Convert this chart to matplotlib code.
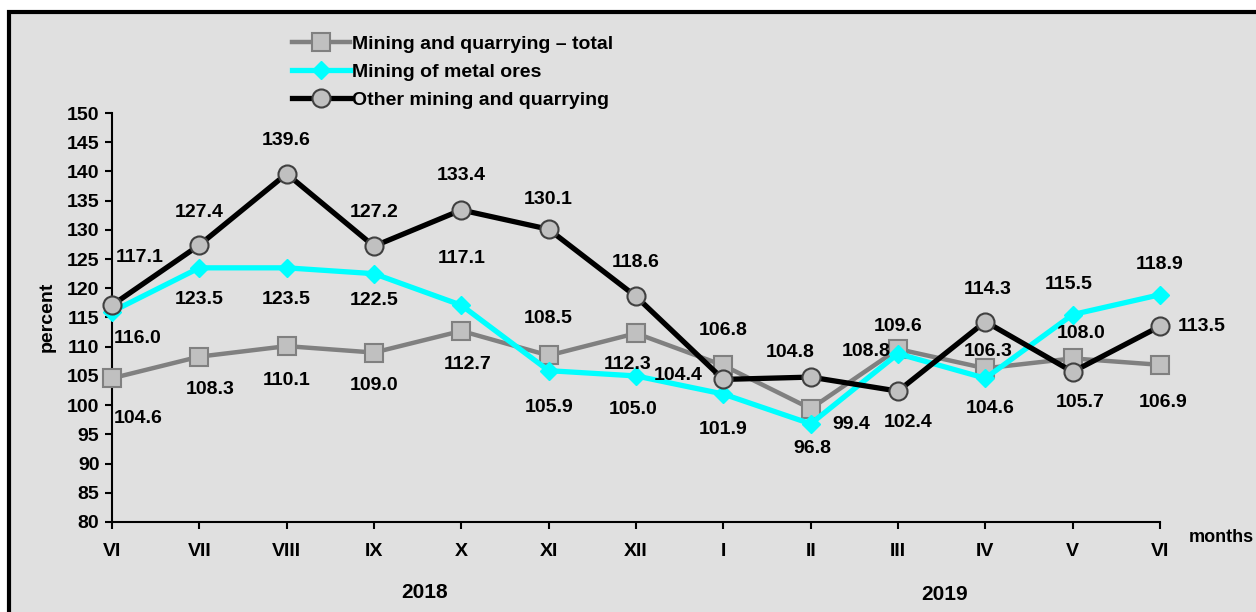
import matplotlib
matplotlib.use("Agg")
import matplotlib.pyplot as plt
from matplotlib.patches import Rectangle

plt.rcParams['font.family'] = ['Liberation Sans', 'DejaVu Sans']
plt.rcParams['font.weight'] = 'bold'

months = ["VI", "VII", "VIII", "IX", "X", "XI", "XII", "I", "II", "III", "IV", "V", "VI"]
total = [104.6, 108.3, 110.1, 109.0, 112.7, 108.5, 112.3, 106.8, 99.4, 109.6, 106.3, 108.0, 106.9]
metal = [116.0, 123.5, 123.5, 122.5, 117.1, 105.9, 105.0, 101.9, 96.8, 108.8, 104.6, 115.5, 118.9]
other = [117.1, 127.4, 139.6, 127.2, 133.4, 130.1, 118.6, 104.4, 104.8, 102.4, 114.3, 105.7, 113.5]
yticks = list(range(80, 151, 5))

# label offsets in pixels (dx, dy), dy positive = up
off_total = [(26, -40), (11, -33), (0, -34), (0, -33), (6, -34), (0, 37), (-8, -31),
             (0, 35), (41, -16), (0, 23), (3, 17), (8, 25), (3, -38)]
off_metal = [(26, -27), (0, -32), (0, -32), (0, -27), (0, 47), (0, -37), (-3, -34),
             (0, -35), (2, -25), (-32, 2), (5, -30), (-4, 30), (0, 30)]
off_other = [(28, 48), (0, 33), (0, 33), (0, 34), (0, 34), (0, 30), (0, 34),
             (-45, 4), (-20, 25), (10, -31), (2, 32), (8, -31), (42, 0)]

FS = 14
W, H = 1256, 612
fig = plt.figure(figsize=(W / 100, H / 100), dpi=100)
fig.patch.set_facecolor('white')
bg = Rectangle((9 / W, -0.05), 1.1, 1 - 12 / H + 0.05, transform=fig.transFigure,
               facecolor='#e0e0e0', edgecolor='black', linewidth=3, zorder=-10)
fig.patches.append(bg)

ax = fig.add_axes([112 / W, 1 - 522 / H, (1160 - 112) / W, (522 - 113) / H])
ax.set_facecolor('none')
ax.set_zorder(1)
x = list(range(len(months)))

l1, = ax.plot(x, total, color='#808080', lw=3.2, marker='s', markersize=13,
              markerfacecolor='#c0c0c0', markeredgecolor='#808080', markeredgewidth=1.5,
              clip_on=False, zorder=3, label='Mining and quarrying – total')
l2, = ax.plot(x, metal, color='#00ffff', lw=3.8, marker='D', markersize=9,
              markerfacecolor='#00ffff', markeredgecolor='#00ffff',
              clip_on=False, zorder=4, label='Mining of metal ores')
l3, = ax.plot(x, other, color='black', lw=3.8, marker='o', markersize=13,
              markerfacecolor='#c0c0c0', markeredgecolor='#404040', markeredgewidth=1.5,
              clip_on=False, zorder=5, label='Other mining and quarrying')

for series, offs in ((total, off_total), (metal, off_metal), (other, off_other)):
    for xi, v, (dx, dy) in zip(x, series, offs):
        ax.annotate(f"{v:.1f}", (xi, v), xytext=(dx, dy), textcoords='offset pixels',
                    ha='center', va='center', fontsize=FS, fontweight='bold', zorder=6)

ax.set_xlim(0, 12)
ax.set_ylim(80, 150)
ax.set_yticks(yticks)
ax.set_xticks(x)
ax.set_xticklabels(months)
ax.spines['top'].set_visible(False)
ax.spines['right'].set_visible(False)
ax.spines['left'].set_linewidth(1.5)
ax.spines['bottom'].set_linewidth(1.5)
ax.tick_params(axis='y', direction='out', length=5, width=1.5, pad=4, labelsize=FS)
ax.tick_params(axis='x', direction='out', length=5, width=1.5, pad=10, labelsize=FS)
for lbl in ax.get_xticklabels() + ax.get_yticklabels():
    lbl.set_fontweight('bold')

fig.text(47 / W, 1 - 317 / H, 'percent', rotation=90, ha='center', va='center',
         fontsize=FS, fontweight='bold')
fig.text(1254 / W, 1 - 538 / H, 'months', ha='right', va='center', fontsize=FS - 1, fontweight='bold')
fig.text(425 / W, 1 - 592 / H, '2018', ha='center', va='center', fontsize=FS + 1, fontweight='bold')
fig.text(945 / W, 1 - 595 / H, '2019', ha='center', va='center', fontsize=FS + 1, fontweight='bold')

leg = fig.legend(handles=[l1, l2, l3], loc='upper left', bbox_to_anchor=(292 / W, 1 - 35 / H),
                 frameon=False, handlelength=3.0, handletextpad=0.1,
                 labelspacing=0.55, borderpad=0, borderaxespad=0,
                 prop={'weight': 'bold', 'size': FS})

fig.savefig('out.png', dpi=100, facecolor='white')
